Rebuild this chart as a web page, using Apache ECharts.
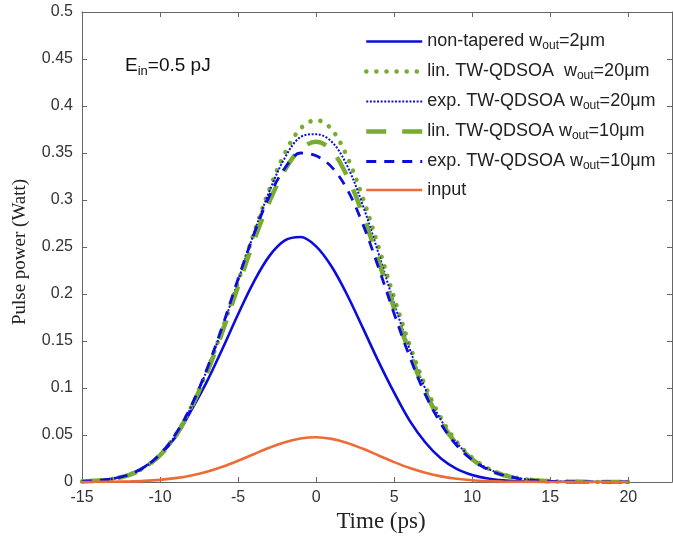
<!DOCTYPE html>
<html>
<head>
<meta charset="utf-8">
<script src="https://cdn.jsdelivr.net/npm/echarts@6/dist/echarts.min.js"></script>
<style>html,body{margin:0;padding:0;background:#fff}#c{width:673px;height:546px}</style>
</head>
<body>
<div id="c"></div>
<script>
// Time axis (ps)
var time = [-15,-14,-13,-12,-11,-10,-9,-8,-7,-6,-5,-4,-3,-2,-1,0,1,2,3,4,5,6,7,8,9,10,11,12,13,14,15,16,17,18,19,20];
// Pulse power (W)
var nonTapered2 = [0.0007,0.0017,0.0038,0.008,0.016,0.029,0.048,0.0761,0.1067,0.1418,0.1785,0.2127,0.2403,0.257,0.2606,0.2507,0.229,0.1987,0.1637,0.1281,0.095,0.065,0.042,0.025,0.014,0.0075,0.0037,0.0017,0.0008,0.0003,0.0001,0,0,0,0,0];
var lin20 = [0.0006,0.0015,0.0035,0.0075,0.0155,0.029,0.05,0.08,0.118,0.163,0.213,0.264,0.311,0.35,0.376,0.385,0.375,0.3455,0.302,0.25,0.196,0.1455,0.102,0.068,0.043,0.0258,0.0146,0.0079,0.004,0.0019,0.0009,0.0004,0.0002,0.0001,0,0];
var exp20 = [0.0006,0.0015,0.0035,0.0075,0.0155,0.029,0.05,0.08,0.119,0.164,0.214,0.264,0.309,0.345,0.367,0.37,0.362,0.336,0.294,0.243,0.19,0.141,0.099,0.066,0.042,0.0251,0.0142,0.0077,0.0039,0.0018,0.0009,0.0004,0.0002,0.0001,0,0];
var lin10 = [0.0006,0.0015,0.0034,0.0074,0.0152,0.0285,0.049,0.079,0.116,0.16,0.208,0.256,0.298,0.332,0.354,0.362,0.3526,0.3249,0.284,0.2351,0.1843,0.1368,0.0959,0.0639,0.0404,0.0243,0.0137,0.0074,0.0038,0.0018,0.0008,0.0004,0.0002,0.0001,0,0];
var exp10 = [0.0006,0.0016,0.0036,0.0077,0.0158,0.0295,0.051,0.081,0.12,0.166,0.216,0.263,0.304,0.334,0.35,0.347,0.335,0.311,0.274,0.228,0.179,0.133,0.093,0.062,0.039,0.0235,0.0133,0.0072,0.0037,0.0017,0.0008,0.0004,0.0002,0.0001,0,0];
var input = [0,0.0001,0.0003,0.0006,0.0012,0.0023,0.0041,0.0069,0.0109,0.0162,0.0226,0.0296,0.0365,0.0424,0.0463,0.0476,0.0459,0.0416,0.0353,0.0282,0.0211,0.0148,0.0098,0.006,0.0035,0.0019,0.001,0.0005,0.0002,0.0001,0,0,0,0,0,0];

var xTicks = [-15,-10,-5,0,5,10,15,20];
var yTicks = [0,0.05,0.1,0.15,0.2,0.25,0.3,0.35,0.4,0.45,0.5];

var names = ['nt','l20','e20','l10','e10','in'];
var legendText = {
  nt: '{t|non-tapered w}{s|out}{t|=2μm}',
  l20: '{t|lin. TW-QDSOA  w}{s|out}{t|=20μm}',
  e20: '{t|exp. TW-QDSOA w}{s|out}{t|=20μm}',
  l10: '{t|lin. TW-QDSOA w}{s|out}{t|=10μm}',
  e10: '{t|exp. TW-QDSOA w}{s|out}{t|=10μm}',
  in: '{t|input}'
};

function pairs(v){ return time.map(function(t,i){ return [t, v[i]]; }); }

var BLUE = '#0c0cdc', GREEN = '#77ac30', ORANGE = '#f06a35';
var styles = {
  nt:  { color: BLUE,   width: 2.6, type: 'solid', cap: 'butt' },
  l20: { color: GREEN,  width: 4.5, type: [0.1, 10], cap: 'round' },
  e20: { color: BLUE,   width: 2,   type: [2, 1.6], cap: 'butt' },
  l10: { color: GREEN,  width: 4.5, type: [20, 16], cap: 'butt' },
  e10: { color: BLUE,   width: 2.8, type: [10, 8], cap: 'butt' },
  in:  { color: ORANGE, width: 2.6, type: 'solid', cap: 'butt' }
};
function ser(name, data){
  var s = styles[name];
  return {
    name: name, type: 'line', data: pairs(data), smooth: 0.35,
    showSymbol: false, symbol: 'none', animation: false,
    lineStyle: { color: s.color, width: s.width, type: s.type, cap: s.cap },
    itemStyle: { color: s.color }
  };
}

var axisCol = '#666';
function tickAxis(extra){
  var o = {
    axisLine: { show: true, onZero: false, lineStyle: { color: axisCol } },
    axisTick: { show: true, inside: true, length: 5, lineStyle: { color: axisCol } },
    splitLine: { show: false }
  };
  for (var k in extra) o[k] = extra[k];
  return o;
}

var chart = echarts.init(document.getElementById('c'), null, {renderer: 'canvas'});
chart.setOption({
  backgroundColor: '#fff',
  animation: false,
  grid: { left: 82, top: 12, bottom: 64, right: 1, outerBoundsMode: 'none', containLabel: false },
  title: {
    text: '{a|E}{s|in}{a|=0.5 pJ}',
    left: 120, top: 50,
    textStyle: { fontWeight: 'normal', rich: {
      a: { fontFamily: 'Liberation Sans', fontSize: 19, color: '#111', lineHeight: 22 },
      s: { fontFamily: 'Liberation Sans', fontSize: 13, color: '#111', lineHeight: 14, padding: [10,0,0,0] }
    }}
  },
  legend: {
    orient: 'vertical', left: 359, top: 26,
    itemWidth: 56, itemHeight: 14, itemGap: 9,
    itemStyle: { opacity: 0 },
    data: names.map(function(n){
      var s = styles[n];
      return { name: n, itemStyle: { opacity: 0 },
        lineStyle: { color: s.color, width: s.width, type: s.type, cap: s.cap } };
    }),
    formatter: function(n){ return legendText[n]; },
    textStyle: { rich: {
      t: { fontFamily: 'Liberation Sans', fontSize: 18, color: '#222', lineHeight: 22 },
      s: { fontFamily: 'Liberation Sans', fontSize: 12, color: '#222', lineHeight: 14, padding: [9,0,0,0] }
    }}
  },
  xAxis: [
    tickAxis({ type: 'value', min: -15, max: 22.8, interval: 5,
      axisLabel: { fontFamily: 'Liberation Sans', fontSize: 16, color: '#333', margin: 8,
        formatter: function(v){ return xTicks.indexOf(v) >= 0 ? String(v) : ''; } } }),
    tickAxis({ type: 'value', position: 'top', min: -15, max: 22.8, interval: 5, axisLabel: { show: false } })
  ],
  yAxis: [
    tickAxis({ type: 'value', min: 0, max: 0.5, interval: 0.05,
      axisLabel: { fontFamily: 'Liberation Sans', fontSize: 16, color: '#333', margin: 9,
        formatter: function(v){ var r = +(+v).toFixed(2); return yTicks.indexOf(r) >= 0 ? String(r) : ''; } } }),
    tickAxis({ type: 'value', position: 'right', min: 0, max: 0.5, interval: 0.05, axisLabel: { show: false } })
  ],
  graphic: [
    { type: 'text', x: 381, y: 522, style: { text: 'Time (ps)', font: '23px "Liberation Serif"', fill: '#222', align: 'center', verticalAlign: 'middle' } },
    { type: 'text', x: 20, y: 252, rotation: Math.PI/2,
      style: { text: 'Pulse power (Watt)', font: '19px "Liberation Serif"', fill: '#222', align: 'center', verticalAlign: 'middle' } }
  ],
  series: names.map(function(n, i){
    return ser(n, [nonTapered2, lin20, exp20, lin10, exp10, input][i]);
  })
});
</script>
</body>
</html>
